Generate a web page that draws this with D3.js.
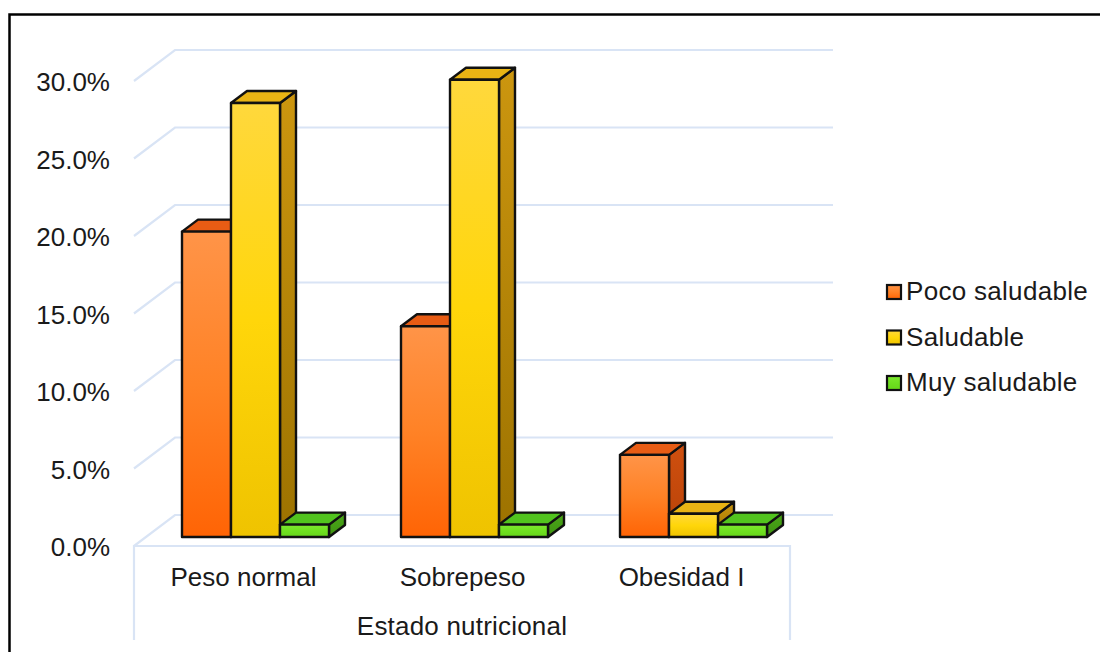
<!DOCTYPE html>
<html>
<head>
<meta charset="utf-8">
<script src="https://cdn.jsdelivr.net/npm/d3@7"></script>
<style>
  html, body { margin: 0; padding: 0; background: #fff; }
  svg { display: block; }
  text { font-family: "Liberation Sans", Arial, sans-serif; fill: #1a1a1a; }
</style>
</head>
<body>
<svg id="chart" width="1100" height="652"></svg>
<script>
const categories = ["Peso normal", "Sobrepeso", "Obesidad I"];
const seriesNames = ["Poco saludable", "Saludable", "Muy saludable"];
const pocoSaludable = [19.7, 13.6, 5.3];
const saludable = [28.0, 29.5, 1.5];
const muySaludable = [0.8, 0.8, 0.8];
const yTicks = [0, 5, 10, 15, 20, 25, 30];
const axisTitle = "Estado nutricional";
const seriesValues = [pocoSaludable, saludable, muySaludable];

const svg = d3.select("#chart");
const depth = { x: 41, y: 31 };
const barDepth = { x: 16, y: 12 };
const floorInset = 9;
const wallRight = 833;
const floorRight = 790;
const frontBottom = 640;
const labelSize = 26;

const y = d3.scaleLinear().domain([0, 30]).range([546, 81]);
const x0 = d3.scaleBand().domain(categories).range([134, 791]);
const x1 = d3.scaleBand().domain(seriesNames).range([48, 195]);

const palettes = [
  { stops: ["#ff9448", "#ff8226", "#ff6405"], top: "#e85c14", side: ["#d0500f", "#b84208"] },
  { stops: ["#ffd83c", "#ffd60a", "#efc300"], top: "#e9b414", side: ["#cc960f", "#9c7200"] },
  { stops: ["#7ee830", "#6fe020", "#66d61a"], top: "#52c41e", side: ["#4aa818", "#3f9212"] }
];

// Vertical gradients, stretched over each bar's own face
const defs = svg.append("defs");
function gradient(id, colors) {
  const g = defs.append("linearGradient").attr("id", id)
    .attr("x1", 0).attr("x2", 0).attr("y1", 0).attr("y2", 1);
  colors.forEach((c, i) => g.append("stop")
    .attr("offset", i / (colors.length - 1)).attr("stop-color", c));
}
palettes.forEach((p, i) => {
  gradient("front" + i, p.stops);
  gradient("side" + i, p.side);
});

// Frame visible on the top and left of the image
svg.append("path")
  .attr("d", "M9.5 652V14.5H1100")
  .attr("fill", "none").attr("stroke", "#000").attr("stroke-width", 2.5);

// Back wall gridlines with their diagonal return to the front plane
const gridColor = "#d9e4f5";
const grid = svg.append("g").attr("fill", "none").attr("stroke", gridColor).attr("stroke-width", 2.2);
yTicks.forEach(t => {
  grid.append("path").attr("d",
    `M${x0.range()[0]} ${y(t)}L${x0.range()[0] + depth.x} ${y(t) - depth.y}H${wallRight}`);
});

// Floor front edge with the category box below it
const box = svg.append("g").attr("fill", "none").attr("stroke", gridColor).attr("stroke-width", 2.2);
box.append("path").attr("d",
  `M${x0.range()[0]} ${frontBottom}V${y(0)}H${floorRight}V${frontBottom}`);

// Value axis labels
const yAxis = d3.axisLeft(y).tickValues(yTicks).tickSize(0).tickPadding(0)
  .tickFormat(d => d3.format(".1f")(d) + "%");
const yG = svg.append("g").attr("transform", "translate(110,0)").call(yAxis);
yG.select(".domain").remove();
yG.selectAll("text").attr("font-size", labelSize).attr("font-family", null).attr("dy", "0.38em");

// Bars, drawn series by series so later bars overlap earlier side faces
const barBase = y(0) - floorInset;
const yBar = v => y(v) - floorInset;
seriesValues.forEach((values, s) => {
  const g = svg.append("g").attr("stroke", "#111").attr("stroke-width", 2.4).attr("stroke-linejoin", "round");
  categories.forEach((c, i) => {
    const left = x0(c) + x1(seriesNames[s]);
    const right = left + x1.bandwidth();
    const top = yBar(values[i]);
    g.append("path").attr("fill", `url(#side${s})`).attr("d",
      `M${right} ${top}L${right + barDepth.x} ${top - barDepth.y}V${barBase - barDepth.y}L${right} ${barBase}Z`);
    g.append("path").attr("fill", palettes[s].top).attr("d",
      `M${left} ${top}L${left + barDepth.x} ${top - barDepth.y}H${right + barDepth.x}L${right} ${top}Z`);
    g.append("rect").attr("fill", `url(#front${s})`)
      .attr("x", left).attr("y", top)
      .attr("width", right - left).attr("height", barBase - top);
  });
});

// Category labels and axis title
const xAxis = d3.axisBottom(x0).tickSize(0).tickPadding(0);
const xG = svg.append("g").attr("transform", "translate(0,568)").call(xAxis);
xG.select(".domain").remove();
xG.selectAll("text").attr("font-size", labelSize).attr("font-family", null).attr("dy", "0.71em");

svg.append("text").attr("x", 462).attr("y", 635)
  .attr("text-anchor", "middle").attr("font-size", labelSize)
  .attr("letter-spacing", 0.2).text(axisTitle);

// Legend
const legendY = d3.scalePoint().domain(seriesNames).range([292, 383]);
const legend = svg.append("g");
seriesNames.forEach((name, i) => {
  legend.append("rect").attr("x", 887).attr("y", legendY(name) - 7)
    .attr("width", 14).attr("height", 14)
    .attr("fill", `url(#front${i})`).attr("stroke", "#111").attr("stroke-width", 2.2);
  legend.append("text").attr("x", 906).attr("y", legendY(name) + 8)
    .attr("font-size", labelSize).attr("letter-spacing", 0.3).text(name);
});
</script>
</body>
</html>
